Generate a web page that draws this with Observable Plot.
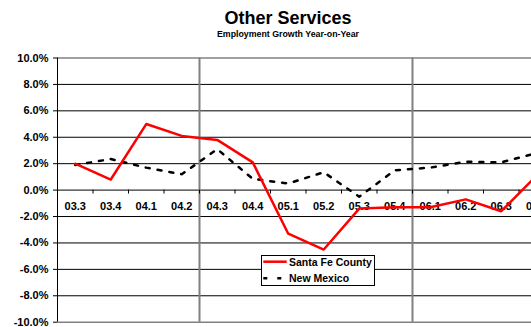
<!DOCTYPE html>
<html>
<head>
<meta charset="utf-8">
<script src="https://cdn.jsdelivr.net/npm/d3@7"></script>
<script src="https://cdn.jsdelivr.net/npm/@observablehq/plot@0.6"></script>
<style>
  html, body { margin: 0; padding: 0; background: #fff; }
  body { width: 531px; height: 327px; overflow: hidden; position: relative;
         font-family: "Liberation Sans", Arial, Helvetica, sans-serif; }
  #head { position: relative; width: 576px; height: 46px; }
  #title { position: absolute; left: 0; top: 9px; width: 576px; text-align: center;
           font-size: 18px; line-height: 18px; font-weight: bold; color: #000; }
  #subtitle { position: absolute; left: 0; top: 30px; width: 576px; text-align: center;
              font-size: 8.8px; line-height: 9px; font-weight: bold; color: #000; }
  #chart { width: 560px; }
  #chart svg { display: block; overflow: visible; max-width: none !important; }
  #legend { position: absolute; left: 261px; top: 255px; }
</style>
</head>
<body>
<div id="head">
  <div id="title">Other Services</div>
  <div id="subtitle">Employment Growth Year-on-Year</div>
</div>
<div id="chart"></div>
<div id="legend"></div>
<script>
// Quarters (year.quarter), year-on-year employment growth in percent
const quarters = ["03.3", "03.4", "04.1", "04.2", "04.3", "04.4", "05.1",
                  "05.2", "05.3", "05.4", "06.1", "06.2", "06.3", "06.4"];
const santaFeCounty = [2.0, 0.8, 5.0, 4.1, 3.8, 2.1, -3.3, -4.5, -1.4, -1.3, -1.3, -0.7, -1.6, 1.1];
const newMexico = [1.9, 2.35, 1.7, 1.2, 3.1, 0.85, 0.5, 1.35, -0.5, 1.5, 1.7, 2.15, 2.1, 2.8];
const yTicks = [-10, -8, -6, -4, -2, 0, 2, 4, 6, 8, 10];
const seriesNames = ["Santa Fe County", "New Mexico"];

const rows = quarters.map((q, i) => ({
  q, i,
  sf: santaFeCounty[i],
  nm: newMexico[i]
}));

const idx = (d) => d.i + 0.5;          // category centre on the index scale
const boundaries = d3.range(1, 15);     // tick marks between categories
const dividers = [4, 10];               // heavier vertical separators

const chart = Plot.plot({
  width: 560,
  height: 281,
  marginLeft: 57,
  marginRight: 6,
  marginTop: 11.5,
  marginBottom: 5.3,
  style: {
    fontFamily: '"Liberation Sans", Arial, Helvetica, sans-serif',
    fontSize: "11px",
    fontWeight: "bold",
    color: "#000",
    background: "transparent",
    maxWidth: "none"
  },
  x: { type: "linear", domain: [0, 14], axis: null },
  y: { domain: [-10, 10] },
  marks: [
    // horizontal gridlines (outer border in grey)
    Plot.ruleY(yTicks.filter(v => Math.abs(v) < 10), { stroke: "#000", strokeWidth: 1 }),
    Plot.ruleY([-10, 10], { stroke: "#808080", strokeWidth: 1.5 }),
    Plot.ruleX(dividers, { stroke: "#808080", strokeWidth: 2 }),
    // vertical axis line
    Plot.ruleX([0], { stroke: "#000", strokeWidth: 1 }),
    // category tick marks hanging below the zero line
    Plot.ruleX(boundaries, { y1: 0, y2: -0.3, stroke: "#000", strokeWidth: 1 }),
    Plot.axisY({
      ticks: yTicks,
      tickFormat: (d) => d.toFixed(1) + "%",
      tickSize: 4,
      tickPadding: 5,
      label: null,
      stroke: "#000",
      fill: "#000",
      fontSize: 11
    }),
    // category labels just below the zero line
    Plot.text(rows, {
      x: idx, y: 0, text: "q", dy: 16,
      fontSize: 11, fontWeight: "bold", fill: "#000"
    }),
    Plot.line(rows, {
      x: idx, y: "nm",
      stroke: "#000", strokeWidth: 2.5, strokeDasharray: "4,8"
    }),
    Plot.line(rows, {
      x: idx, y: "sf",
      stroke: "#ff0000", strokeWidth: 2.5
    })
  ]
});
document.getElementById("chart").appendChild(chart);

// legend box
const legend = d3.select("#legend").append("svg")
  .attr("width", 115).attr("height", 32)
  .style("display", "block");
legend.append("rect")
  .attr("x", 0.5).attr("y", 0.5).attr("width", 113).attr("height", 30)
  .attr("fill", "#fff").attr("stroke", "#000").attr("stroke-width", 1);
const swatches = [
  { stroke: "#ff0000", dash: null, y: 6.7 },
  { stroke: "#000", dash: "4,10", y: 23.3 }
];
seriesNames.forEach((name, k) => {
  const s = swatches[k];
  legend.append("line")
    .attr("x1", 2.3).attr("x2", 25.7).attr("y1", s.y).attr("y2", s.y)
    .attr("stroke", s.stroke).attr("stroke-width", 2.5)
    .attr("stroke-dasharray", s.dash);
  legend.append("text")
    .attr("x", 28).attr("y", s.y + 4)
    .attr("font-family", '"Liberation Sans", Arial, Helvetica, sans-serif')
    .attr("font-size", 10.5).attr("font-weight", "bold")
    .attr("fill", "#000")
    .text(name);
});
</script>
</body>
</html>
